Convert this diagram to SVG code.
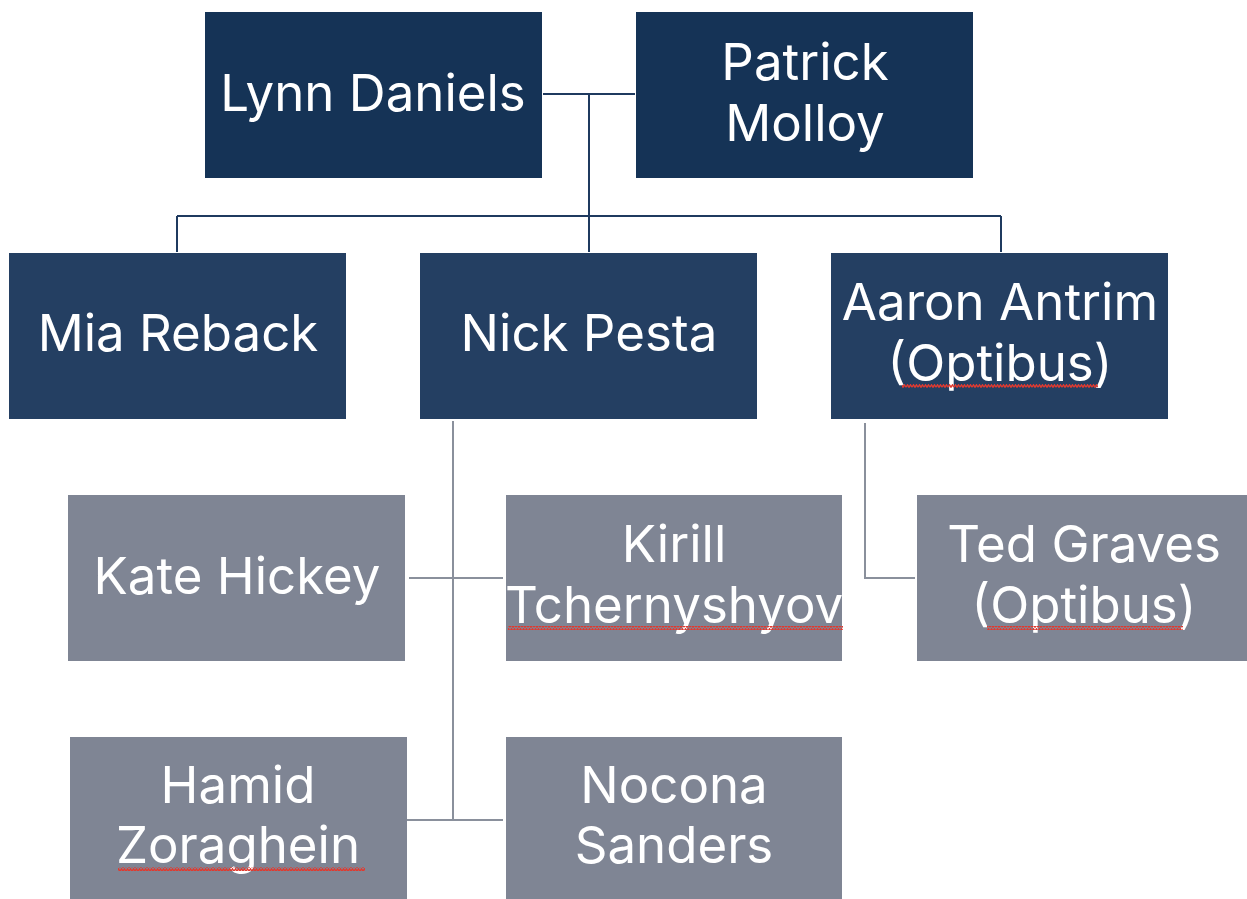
<svg xmlns="http://www.w3.org/2000/svg" width="1247" height="899" viewBox="0 0 1247 899">
<defs>
<style>
.t1{fill:#153356}
.t2{fill:#243F62}
.g{fill:#7F8594}
text{font-family:Inter,"Noto Sans",sans-serif;font-size:51px;fill:#ffffff;text-anchor:middle}
.cn{stroke:#1F3A5F;stroke-width:2;fill:none}
.cg{stroke:#8A909C;stroke-width:2;fill:none}
</style>
<pattern id="wave" width="6" height="4" patternUnits="userSpaceOnUse">
<path d="M0,3.2 L1.5,0.8 L3,3.2 L4.5,0.8 L6,3.2" stroke="#E03A30" stroke-width="1.4" fill="none"/>
</pattern>
</defs>
<rect width="1247" height="899" fill="#ffffff"/>
<g id="connectors">
<path class="cn" d="M543,94 H635 M589,94 V252 M177,216 H1001 M177,216 V252 M1001,216 V252"/>
<path class="cg" d="M453,421 V820 M409,578 H503 M407,820 H503 M865,423 V578 H915"/>
</g>
<g id="lynn"><rect class="t1" x="205" y="12" width="337" height="166"/><text x="373" y="111">Lynn Daniels</text></g>
<g id="patrick"><rect class="t1" x="636" y="12" width="337" height="166"/><text x="805" y="80">Patrick</text><text x="805" y="141">Molloy</text></g>
<g id="mia"><rect class="t2" x="9" y="253" width="337" height="166"/><text x="178" y="351">Mia Reback</text></g>
<g id="nick"><rect class="t2" x="420" y="253" width="337" height="166"/><text x="589" y="351">Nick Pesta</text></g>
<g id="aaron"><rect class="t2" x="831" y="253" width="337" height="166"/><text x="1000" y="320">Aaron Antrim</text><text x="1000" y="381">(Optibus)</text><rect x="902" y="384" width="196" height="4" fill="url(#wave)"/></g>
<g id="kate"><rect class="g" x="68" y="495" width="337" height="166"/><text x="237" y="594">Kate Hickey</text></g>
<g id="kirill"><rect class="g" x="506" y="495" width="336" height="166"/><text x="674" y="562">Kirill</text><text x="674" y="623">Tchernyshyov</text><rect x="508" y="626" width="335" height="4" fill="url(#wave)"/></g>
<g id="ted"><rect class="g" x="917" y="495" width="330" height="166"/><text x="1084" y="562">Ted Graves</text><text x="1084" y="623">(Optibus)</text><rect x="987" y="626" width="196" height="4" fill="url(#wave)"/></g>
<g id="hamid"><rect class="g" x="70" y="737" width="337" height="162"/><text x="238" y="803">Hamid</text><text x="238" y="863">Zoraghein</text><rect x="118" y="867" width="247" height="4" fill="url(#wave)"/></g>
<g id="nocona"><rect class="g" x="506" y="737" width="336" height="162"/><text x="674" y="803">Nocona</text><text x="674" y="863">Sanders</text></g>
</svg>
